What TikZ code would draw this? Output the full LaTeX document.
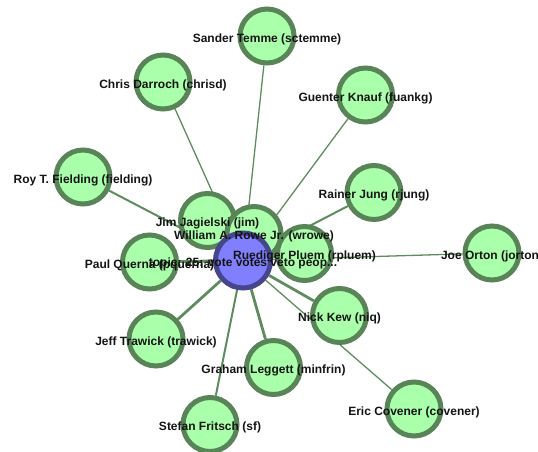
\documentclass[tikz,border=0pt]{standalone}
\usepackage{fontspec}
\setmainfont{Liberation Sans}
\usetikzlibrary{backgrounds}
\definecolor{nodefill}{RGB}{170,255,170}
\definecolor{nodeline}{RGB}{88,132,88}
\definecolor{topicfill}{RGB}{128,128,255}
\definecolor{topicline}{RGB}{70,70,140}
\definecolor{edgecol}{RGB}{95,140,95}
\definecolor{lblcol}{RGB}{20,20,20}
\tikzset{
	person/.style={circle, fill=nodefill, draw=nodeline, line width=5pt, minimum size=54pt, inner sep=0pt},
	topic/.style={circle, fill=topicfill, draw=topicline, line width=5pt, minimum size=55pt, inner sep=0pt},
	lbl/.style={font=\fontsize{12}{14}\selectfont\bfseries, text=lblcol, inner sep=0pt, yshift=-3pt},
	thinedge/.style={draw=edgecol, line width=1.3pt},
	midedge/.style={draw=edgecol, line width=2pt},
	thickedge/.style={draw=edgecol, line width=2.8pt}
}

\begin{document}
\begin{tikzpicture}[x=1pt, y=-1pt]
		%%%%% START %%%%%
		\useasboundingbox (0, 0) rectangle (538, 452);
		
		\node[person] (jim) at (207.5, 220.5) {};
		\node[person] (wrowe) at (254, 233.5) {};
		\node[person] (rpluem) at (304.5, 253.5) {};
		
		\node[person] (sctemme) at (267, 36) {};
		\node[person] (chrisd) at (163, 82) {};
		\node[person] (fuankg) at (365.5, 95) {};
		\node[person] (fielding) at (83, 177) {};
		\node[person] (rjung) at (374, 192.5) {};
		\node[person] (jorton) at (492, 253) {};
		\node[person] (pquerna) at (149.5, 262) {};
		\node[person] (niq) at (339.5, 315.5) {};
		\node[person] (trawick) at (156, 339) {};
		\node[person] (minfrin) at (273.5, 367.5) {};
		\node[person] (sf) at (210, 424.5) {};
		\node[person] (covener) at (414, 409) {};
		
		\node[topic] (topic) at (243, 260.5) {};
		
		\begin{scope}[on background layer]
			\draw[thinedge] (topic) -- (sctemme);
			\draw[thinedge] (topic) -- (chrisd);
			\draw[thinedge] (topic) -- (fuankg);
			\draw[midedge] (topic) -- (fielding);
			\draw[midedge] (topic) -- (rjung);
			\draw[thinedge] (topic) -- (jorton);
			\draw[thinedge] (topic) -- (covener);
			\draw[thickedge] (topic) -- (niq);
			\draw[thickedge] (topic) -- (minfrin);
			\draw[midedge] (topic) -- (sf);
			\draw[thickedge] (topic) -- (trawick);
			\draw[thickedge] (topic) -- (pquerna);
			\draw[thickedge] (topic) -- (jim);
			\draw[thickedge] (topic) -- (wrowe);
			\draw[thickedge] (topic) -- (rpluem);
		\end{scope}
		
		\node[lbl] (sctemme-l) at (sctemme) {Sander Temme (sctemme)};
		\node[lbl] (chrisd-l) at (chrisd) {Chris Darroch (chrisd)};
		\node[lbl] (fuankg-l) at (fuankg) {Guenter Knauf (fuankg)};
		\node[lbl] (fielding-l) at (fielding) {Roy T. Fielding (fielding)};
		\node[lbl] (rjung-l) at (rjung) {Rainer Jung (rjung)};
		\node[lbl] (jim-l) at (jim) {Jim Jagielski (jim)};
		\node[lbl] (wrowe-l) at (wrowe) {William A. Rowe Jr. (wrowe)};
		\node[lbl] (rpluem-l) at (rpluem) {Ruediger Pluem (rpluem)};
		\node[lbl] (jorton-l) at (jorton) {Joe Orton (jorton)};
		\node[lbl] (pquerna-l) at (pquerna) {Paul Querna (pquerna)};
		\node[lbl] (niq-l) at (niq) {Nick Kew (niq)};
		\node[lbl] (trawick-l) at (trawick) {Jeff Trawick (trawick)};
		\node[lbl] (minfrin-l) at (minfrin) {Graham Leggett (minfrin)};
		\node[lbl] (sf-l) at (sf) {Stefan Fritsch (sf)};
		\node[lbl] (covener-l) at (covener) {Eric Covener (covener)};
		\node[lbl] (topic-l) at (topic) {topic: 25: vote votes veto peop...};
		
		%%%%% END %%%%%
\end{tikzpicture}
\end{document}
